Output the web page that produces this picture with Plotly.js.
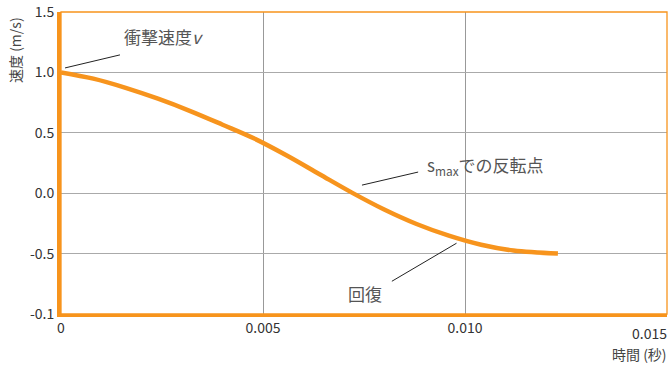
<!DOCTYPE html>
<html>
<head>
<meta charset="utf-8">
<script src="https://cdn.plot.ly/plotly-3.0.1.min.js"></script>
<style>html,body{margin:0;padding:0;background:#fff}#chart{width:670px;height:365px}</style>
</head>
<body>
<div id="chart"></div>
<script>
// Time (s) and velocity (m/s)
const timeS = [0, 0.0008, 0.0016, 0.0024, 0.0032, 0.0040, 0.0048, 0.0056, 0.0064, 0.0072, 0.0080, 0.0088, 0.0096, 0.0104, 0.0112, 0.0123];
const velocity = [1.0, 0.948, 0.872, 0.782, 0.680, 0.567, 0.450, 0.310, 0.157, 0.005, -0.135, -0.255, -0.352, -0.427, -0.475, -0.500];

const xTickVals = [0, 0.005, 0.010];
const xTickText = ['0', '0.005', '0.010'];
const xLastTickVal = 0.015;
const xLastTickText = '0.015';
const yTickVals = [-1.0, -0.5, 0.0, 0.5, 1.0, 1.5];
const yTickText = ['-0.1', '-0.5', '0.0', '0.5', '1.0', '1.5'];

const labelTexts = ['衝撃速度<i>v</i>', 's<sub>max</sub>での反転点', '回復'];
const labelX = [0.0015, 0.0090, 0.00752];
const labelY = [1.30, 0.23, -0.833];
const labelAnchor = ['left', 'left', 'center'];
const leaderX0 = [0.0001, 0.00745, 0.00819];
const leaderY0 = [1.037, 0.067, -0.729];
const leaderX1 = [0.00146, 0.00884, 0.00979];
const leaderY1 = [1.145, 0.175, -0.414];

const orange = '#F7941D';
const font = 'Noto Sans CJK JP, Noto Sans, sans-serif';

const annotations = labelTexts.map((t, i) => ({
  text: t, x: labelX[i], y: labelY[i], xref: 'x', yref: 'y',
  xanchor: labelAnchor[i], yanchor: 'middle', showarrow: false,
  font: {family: font, size: 17, color: '#555'}
}));
annotations.push({
  text: xLastTickText, x: xLastTickVal, y: 0, xref: 'x', yref: 'paper',
  xanchor: 'right', yanchor: 'top', yshift: -7, xshift: 2, showarrow: false,
  font: {family: font, size: 14, color: '#333'}
});
annotations.push({
  text: '時間 (秒)', x: 1, y: 0, xref: 'paper', yref: 'paper',
  xanchor: 'right', yanchor: 'top', yshift: -28, xshift: 2, showarrow: false,
  font: {family: font, size: 14, color: '#444'}
});
annotations.push({
  text: '速度 (m/s)', x: -0.076, y: 0.874, xref: 'paper', yref: 'paper',
  xanchor: 'center', yanchor: 'middle', textangle: -90, showarrow: false,
  font: {family: font, size: 14, color: '#444'}
});

const shapes = leaderX0.map((x0, i) => ({
  type: 'line', xref: 'x', yref: 'y', x0: x0, y0: leaderY0[i], x1: leaderX1[i], y1: leaderY1[i],
  line: {color: '#222', width: 1}
}));
shapes.push({type: 'rect', xref: 'paper', yref: 'paper', x0: 0, y0: 0, x1: 1, y1: 1,
  line: {color: orange, width: 1.3}, layer: 'above'});

const data = [{
  x: timeS, y: velocity, type: 'scatter', mode: 'lines',
  line: {color: orange, width: 4.5, shape: 'spline', smoothing: 1}, hoverinfo: 'skip'
}];

const layout = {
  width: 670, height: 365,
  margin: {l: 61, r: 3, t: 12, b: 51},
  paper_bgcolor: '#fff', plot_bgcolor: '#fff',
  showlegend: false,
  font: {family: font, size: 14, color: '#333'},
  xaxis: {
    range: [0, 0.015], tickvals: xTickVals, ticktext: xTickText,
    showgrid: true, gridcolor: '#999', gridwidth: 1, zeroline: false,
    showline: true, linecolor: orange, linewidth: 2.5, ticks: '',
    tickfont: {family: font, size: 14, color: '#333'}, fixedrange: true
  },
  yaxis: {
    range: [-1.0, 1.5], tickvals: yTickVals, ticktext: yTickText,
    showgrid: true, gridcolor: '#aaa', gridwidth: 1, zeroline: false,
    showline: true, linecolor: orange, linewidth: 4, ticks: '',
    tickfont: {family: font, size: 14, color: '#333'}, fixedrange: true
  },
  annotations: annotations,
  shapes: shapes
};

Plotly.newPlot('chart', data, layout, {displayModeBar: false, staticPlot: true});
</script>
</body>
</html>
